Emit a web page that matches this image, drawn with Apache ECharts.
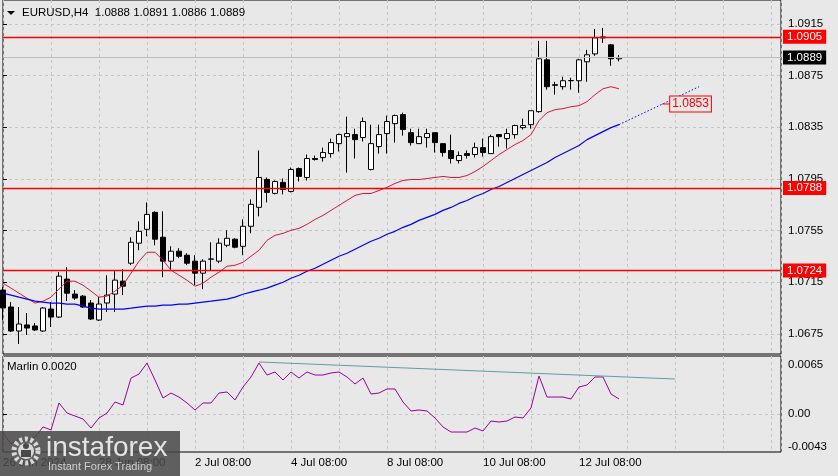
<!DOCTYPE html>
<html><head><meta charset="utf-8">
<script src="https://cdn.jsdelivr.net/npm/echarts@6/dist/echarts.min.js"></script>
<style>html,body{margin:0;padding:0;background:#e8e8e8;overflow:hidden}#c{width:838px;height:476px}</style>
</head><body><div id="c"></div>
<script>
// ---------- data ----------
const symbolTitle = 'EURUSD,H4';
const lastOHLC = ['1.0888', '1.0891', '1.0886', '1.0889'];
const indicatorName = 'Marlin';
const indicatorValue = '0.0020';

const dateTickIndex = [0, 12, 24, 36, 48, 60, 72];
const dateTickLabels = ['26 Jun 2024', '28 Jun 08:00', '2 Jul 08:00', '4 Jul 08:00', '8 Jul 08:00', '10 Jul 08:00', '12 Jul 08:00'];
const priceTicks = [1.0675, 1.0715, 1.0755, 1.0795, 1.0835, 1.0875, 1.0915];
const oscTicks = [0.0065, 0, -0.0043];

const opens = [1.07089,1.06958,1.06772,1.06819,1.06811,1.06772,1.06942,1.06880,1.07174,1.07058,
  1.07042,1.06989,1.06857,1.06989,1.07058,1.07158,1.07297,1.07452,1.07560,1.07691,
  1.07498,1.07313,1.07390,1.07359,1.07313,1.07220,1.07328,1.07313,1.07436,1.07483,
  1.07428,1.07583,1.07730,1.07946,1.07838,1.07923,1.07853,1.08030,1.07961,1.08108,
  1.08115,1.08146,1.08223,1.08277,1.08293,1.08270,1.08023,1.08200,1.08301,1.08378,
  1.08448,1.08308,1.08223,1.08270,1.08308,1.08223,1.08170,1.08092,1.08146,1.08139,
  1.08192,1.08146,1.08293,1.08262,1.08293,1.08347,1.08370,1.08471,1.08872,1.08679,
  1.08664,1.08710,1.08710,1.08857,1.08918,1.09042,1.08988,1.08880];
const closes = [1.06950,1.06772,1.06826,1.06795,1.06780,1.06950,1.06880,1.07197,1.07065,1.07027,
  1.06958,1.06865,1.06981,1.07050,1.07166,1.07119,1.07459,1.07544,1.07675,1.07483,
  1.07313,1.07390,1.07351,1.07297,1.07220,1.07313,1.07330,1.07452,1.07490,1.07421,
  1.07583,1.07753,1.07961,1.07845,1.07930,1.07868,1.08023,1.07969,1.08108,1.08100,
  1.08154,1.08231,1.08293,1.08301,1.08254,1.08394,1.08223,1.08293,1.08394,1.08440,
  1.08332,1.08231,1.08277,1.08301,1.08231,1.08154,1.08108,1.08131,1.08131,1.08192,
  1.08154,1.08277,1.08277,1.08301,1.08363,1.08363,1.08478,1.08880,1.08664,1.08675,
  1.08710,1.08712,1.08872,1.08911,1.09042,1.09050,1.08880,1.08890];
const lows = [1.06857,1.06765,1.06672,1.06741,1.06772,1.06765,1.06803,1.06873,1.07004,1.07012,
  1.06950,1.06857,1.06850,1.06919,1.06919,1.07050,1.07282,1.07398,1.07506,1.07436,
  1.07189,1.07243,1.07336,1.07282,1.07127,1.07096,1.07243,1.07297,1.07421,1.07413,
  1.07359,1.07529,1.07660,1.07768,1.07830,1.07830,1.07845,1.07930,1.07938,1.08092,
  1.08084,1.08115,1.08162,1.07999,1.08108,1.08239,1.08015,1.08146,1.08146,1.08231,
  1.08285,1.08208,1.08223,1.08192,1.08154,1.08123,1.08069,1.08069,1.08108,1.08115,
  1.08123,1.08146,1.08200,1.08185,1.08262,1.08332,1.08339,1.08463,1.08641,1.08602,
  1.08641,1.08641,1.08617,1.08702,1.08903,1.09003,1.08826,1.08860];
const highs = [1.07112,1.06996,1.06958,1.06911,1.06834,1.06958,1.06996,1.07228,1.07266,1.07089,
  1.07050,1.07012,1.07035,1.07204,1.07235,1.07251,1.07498,1.07621,1.07768,1.07699,
  1.07699,1.07428,1.07413,1.07374,1.07359,1.07328,1.07459,1.07490,1.07552,1.07490,
  1.07637,1.07791,1.08170,1.07961,1.07938,1.07953,1.08038,1.08038,1.08139,1.08131,
  1.08192,1.08262,1.08301,1.08432,1.08339,1.08425,1.08370,1.08370,1.08440,1.08448,
  1.08463,1.08339,1.08339,1.08339,1.08308,1.08223,1.08293,1.08162,1.08170,1.08231,
  1.08262,1.08293,1.08293,1.08339,1.08370,1.08417,1.08478,1.09019,1.09019,1.08702,
  1.08741,1.08733,1.08880,1.08949,1.09111,1.09119,1.08995,1.08910];

const maFast = [1.07142,1.07104,1.07065,1.07026,1.06988,1.07003,1.07034,1.07096,1.07158,1.07158,
  1.07127,1.07081,1.07034,1.07042,1.07081,1.07127,1.07220,1.07312,1.07382,1.07382,
  1.07320,1.07243,1.07204,1.07165,1.07119,1.07142,1.07189,1.07227,1.07274,1.07281,
  1.07304,1.07351,1.07397,1.07474,1.07513,1.07528,1.07552,1.07567,1.07598,1.07636,
  1.07667,1.07706,1.07745,1.07783,1.07822,1.07837,1.07837,1.07860,1.07884,1.07915,
  1.07938,1.07945,1.07945,1.07953,1.07961,1.07969,1.07961,1.07961,1.07976,1.08007,
  1.08046,1.08092,1.08138,1.08177,1.08216,1.08247,1.08293,1.08401,1.08463,1.08486,
  1.08494,1.08509,1.08517,1.08548,1.08602,1.08648,1.08664,1.08648];
const maSlow = [1.07065,1.07050,1.07034,1.07019,1.07003,1.06996,1.06988,1.06988,1.06980,1.06980,
  1.06965,1.06949,1.06942,1.06942,1.06942,1.06942,1.06949,1.06957,1.06965,1.06965,
  1.06972,1.06972,1.06980,1.06980,1.06988,1.06996,1.07003,1.07011,1.07019,1.07034,
  1.07057,1.07073,1.07088,1.07104,1.07127,1.07150,1.07181,1.07204,1.07235,1.07258,
  1.07289,1.07320,1.07351,1.07374,1.07405,1.07436,1.07467,1.07490,1.07521,1.07544,
  1.07575,1.07598,1.07629,1.07652,1.07675,1.07706,1.07729,1.07760,1.07783,1.07814,
  1.07837,1.07868,1.07891,1.07922,1.07953,1.07984,1.08015,1.08046,1.08077,1.08115,
  1.08146,1.08177,1.08208,1.08254,1.08285,1.08316,1.08347,1.08370];

const projectionIndex = [77, 87];
const projectionValue = [1.08370, 1.08664];
const calloutIndex = [82.4, 83.4];
const calloutValue = 1.0853;

const levelValues = [1.0905, 1.0788, 1.0724];
const bidValue = 1.0889;

const marlin = [-0.00252,-0.00398,-0.00332,-0.00358,-0.00305,-0.00172,-0.00212,0.00146,0.00013,-0.00027,
  -0.00066,-0.00186,-0.00053,0.00013,0.00159,0.00119,0.00477,0.00530,0.00676,0.00451,
  0.00212,0.00278,0.00225,0.00146,0.00053,0.00146,0.00146,0.00278,0.00292,0.00186,
  0.00358,0.00491,0.00676,0.00517,0.00557,0.00451,0.00557,0.00477,0.00557,0.00517,
  0.00517,0.00544,0.00557,0.00491,0.00398,0.00477,0.00265,0.00278,0.00332,0.00332,
  0.00159,0.00040,0.00053,0.00040,-0.00053,-0.00172,-0.00239,-0.00239,-0.00239,-0.00186,
  -0.00225,-0.00093,-0.00106,-0.00093,-0.00040,-0.00053,0.00080,0.00504,0.00225,0.00225,
  0.00225,0.00199,0.00358,0.00385,0.00491,0.00491,0.00265,0.00200];
const trendIndex = [32, 84];
const trendValue = [0.00690, 0.00464];

// ---------- chart ----------
const FONT = 'Liberation Sans';
const FS = 11.5;
const BG = '#e8e8e8';
const GRIDLINE = {show: true, lineStyle: {color: '#c4c4c4', type: [3, 3], width: 1}};
const X_MAX = 97.25;

const candleData = opens.map((o, i) => [i, o, closes[i], lows[i], highs[i]]);
const pairs = (arr) => arr.map((v, i) => [i, v]);

function tag(value, bg, lineColor, w) {
  return {
    yAxis: value,
    lineStyle: {color: lineColor, type: 'solid', width: w, opacity: 1},
    label: {show: true, position: 'end', distance: 2, formatter: value.toFixed(4),
      backgroundColor: bg, color: '#fff', fontFamily: FONT, fontSize: FS,
      padding: [1, 4, 1, 4], lineHeight: 12}
  };
}

const chart = echarts.init(document.getElementById('c'), null, {renderer: 'canvas'});
chart.setOption({
  animation: false,
  backgroundColor: BG,
  textStyle: {fontFamily: FONT},
  grid: [
    {left: 3, top: -1, width: 778, height: 355, show: true, borderColor: '#000', borderWidth: 1, backgroundColor: 'transparent'},
    {left: 3, top: 356, width: 778, height: 96, show: true, borderColor: '#000', borderWidth: 1, backgroundColor: 'transparent'}
  ],
  xAxis: [
    {gridIndex: 0, type: 'value', min: 0, max: X_MAX, interval: 6,
      axisLine: {show: false}, axisTick: {show: false}, axisLabel: {show: false}, splitLine: GRIDLINE},
    {gridIndex: 1, type: 'value', min: 0, max: X_MAX, interval: 6,
      axisLine: {show: false}, axisTick: {show: false},
      axisLabel: {show: true, customValues: dateTickIndex,
        formatter: (v) => { const k = dateTickIndex.indexOf(v); return k >= 0 ? dateTickLabels[k] : ''; },
        align: 'left', color: '#000', fontFamily: FONT, fontSize: FS, margin: 5},
      splitLine: GRIDLINE}
  ],
  yAxis: [
    {gridIndex: 0, type: 'value', position: 'right', min: 1.065940, max: 1.093353,
      axisLine: {show: false},
      axisTick: {show: true, customValues: priceTicks, length: 4, lineStyle: {color: '#000'}},
      axisLabel: {show: true, customValues: priceTicks, formatter: (v) => v.toFixed(4),
        color: '#000', fontFamily: FONT, fontSize: FS, margin: 7},
      splitLine: GRIDLINE},
    {gridIndex: 1, type: 'value', position: 'right', min: -0.00504, max: 0.007692,
      axisLine: {show: false},
      axisTick: {show: true, customValues: [0], length: 4, lineStyle: {color: '#000'}},
      axisLabel: {show: true, customValues: oscTicks,
        formatter: (v) => (v === 0 ? '0.00' : v.toFixed(4)),
        color: '#000', fontFamily: FONT, fontSize: FS, margin: 7},
      splitLine: GRIDLINE}
  ],
  series: [
    {type: 'candlestick', xAxisIndex: 0, yAxisIndex: 0, data: candleData, barWidth: 5, z: 2,
      itemStyle: {color: '#ffffff', color0: '#000000', borderColor: '#000000', borderColor0: '#000000', borderWidth: 1}},
    {type: 'line', xAxisIndex: 0, yAxisIndex: 0, data: pairs(maFast), symbol: 'none', z: 3,
      lineStyle: {color: '#dc143c', width: 1},
      markLine: {silent: true, symbol: ['none', 'none'], animation: false, z: 5, precision: 6,
        data: [tag(levelValues[0], '#ff0000', '#ff0000', 1.3), tag(levelValues[1], '#ff0000', '#ff0000', 1.3),
               tag(levelValues[2], '#ff0000', '#ff0000', 1.3), tag(bidValue, '#000000', '#bcbcbc', 1)]}},
    {type: 'line', xAxisIndex: 0, yAxisIndex: 0, data: pairs(maSlow), symbol: 'none', z: 3,
      lineStyle: {color: '#0000ff', width: 1.2}},
    {type: 'line', xAxisIndex: 0, yAxisIndex: 0, data: projectionIndex.map((x, i) => [x, projectionValue[i]]),
      symbol: 'none', z: 3, lineStyle: {color: '#0000ff', width: 1, type: [1.5, 2]}},
    {type: 'line', xAxisIndex: 0, yAxisIndex: 0, symbol: 'none', z: 4,
      lineStyle: {color: '#ff0000', width: 1},
      data: calloutIndex.map((x) => [x, calloutValue]),
      endLabel: {show: true, distance: 0, formatter: calloutValue.toFixed(4),
        color: '#ff0000', fontFamily: FONT, fontSize: 12, borderColor: '#ff0000', borderWidth: 1,
        padding: [2, 2, 1, 2], backgroundColor: BG}},
    {type: 'line', xAxisIndex: 1, yAxisIndex: 1, data: pairs(marlin), symbol: 'none', z: 3,
      lineStyle: {color: '#990099', width: 1}},
    {type: 'line', xAxisIndex: 1, yAxisIndex: 1, data: trendIndex.map((x, i) => [x, trendValue[i]]),
      symbol: 'none', z: 3, lineStyle: {color: '#5f9ea0', width: 1}}
  ],
  graphic: [
    {type: 'polygon', shape: {points: [[7, 11], [15, 11], [11, 15]]}, style: {fill: '#000'}, z: 10},
    {type: 'text', x: 22, y: 13, z: 10,
      style: {text: symbolTitle + '  ' + lastOHLC.join(' '), fill: '#000', font: FS + 'px "' + FONT + '"', verticalAlign: 'middle'}},
    {type: 'text', x: 7, y: 367, z: 10,
      style: {text: indicatorName + ' ' + indicatorValue, fill: '#000', font: FS + 'px "' + FONT + '"', verticalAlign: 'middle'}},
    {type: 'group', z: 100, children: [
      {type: 'rect', shape: {x: 0, y: 431, width: 180, height: 45}, style: {fill: 'rgba(72,72,72,0.86)'}, z: 100},
      {type: 'circle', shape: {cx: 26, cy: 451, r: 12}, style: {fill: 'none', stroke: '#d8d8d8', lineWidth: 5, lineDash: [3, 2.5]}, z: 101},
      {type: 'circle', shape: {cx: 26, cy: 451, r: 8}, style: {fill: '#d8d8d8'}, z: 101},
      {type: 'circle', shape: {cx: 26, cy: 446, r: 3}, style: {fill: 'rgba(72,72,72,1)'}, z: 102},
      {type: 'rect', shape: {x: 21, y: 450, width: 10, height: 7}, style: {fill: 'rgba(72,72,72,1)'}, z: 102},
      {type: 'text', x: 46, y: 448, z: 101,
        style: {text: 'instaforex', fill: '#e4e4e4', font: '28px "' + FONT + '"', verticalAlign: 'middle'}},
      {type: 'text', x: 48, y: 467, z: 101,
        style: {text: 'Instant Forex Trading', fill: '#d0d0d0', font: '11px "' + FONT + '"', verticalAlign: 'middle'}}
    ]}
  ]
});
</script>
</body></html>
